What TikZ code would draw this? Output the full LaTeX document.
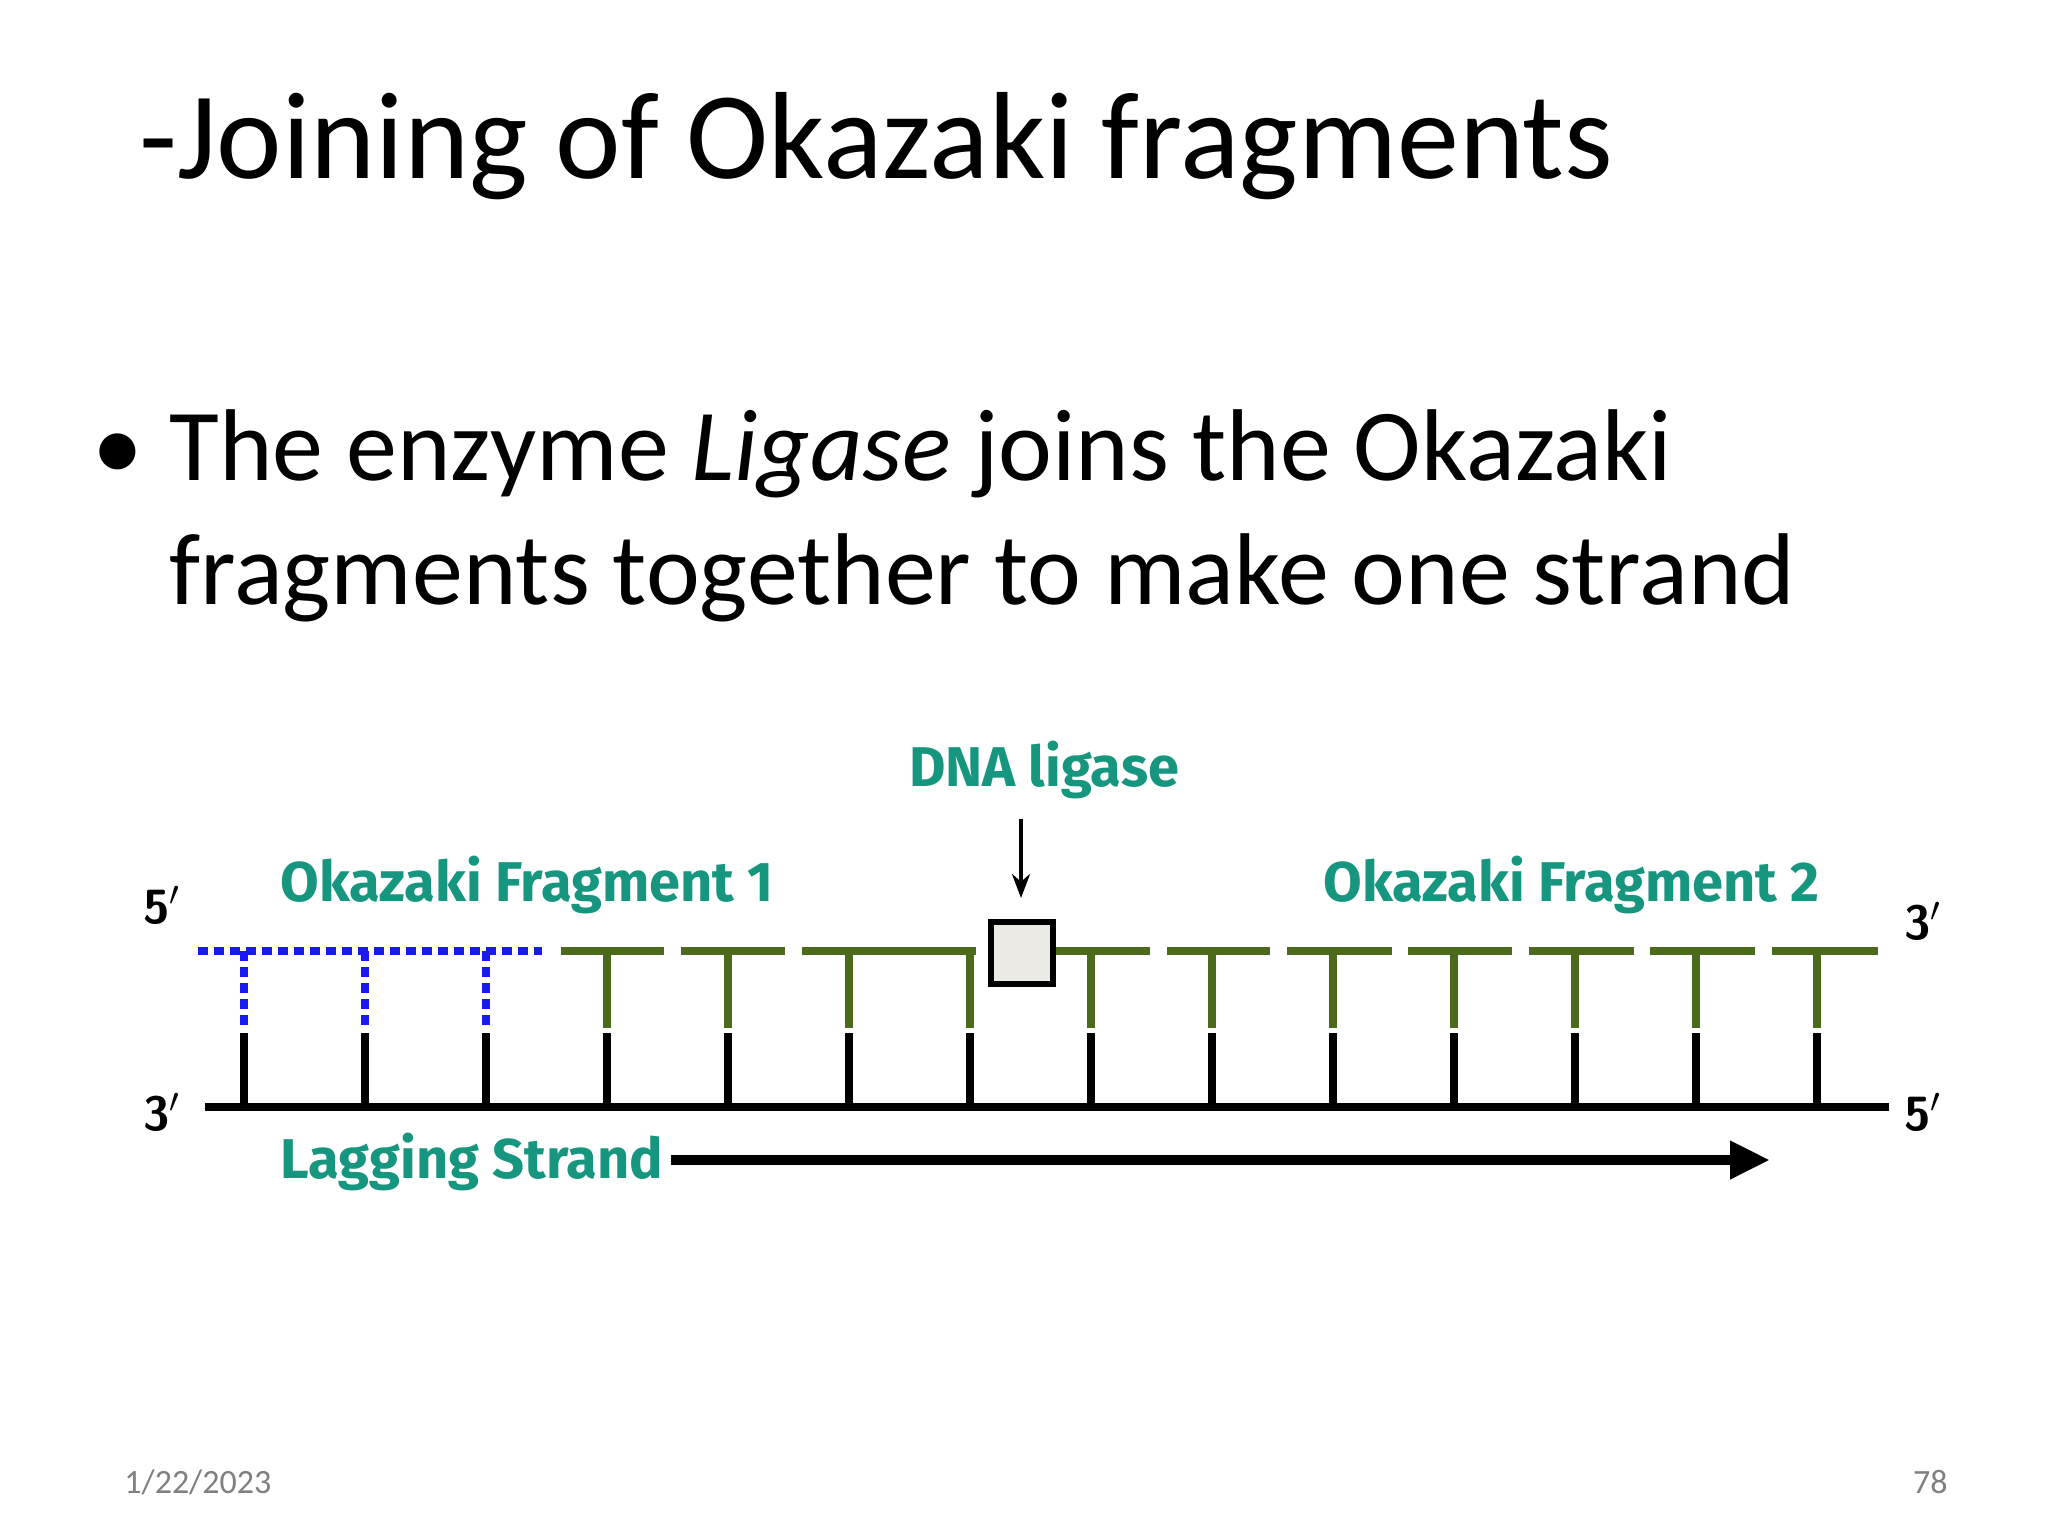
\documentclass[tikz,border=0pt]{standalone}
\usepackage{fontspec}
\setmainfont{Carlito}
\newfontfamily\labfont{Fira Sans}
\usetikzlibrary{arrows.meta}
\definecolor{teal1}{HTML}{16967F}
\definecolor{dgreen}{HTML}{4B6A1B}
\definecolor{dblue}{HTML}{1A1AF0}
\definecolor{boxfill}{HTML}{ECEAE4}
\tikzset{lab/.style={font=\labfont\bfseries\fontsize{28}{32}\selectfont,text=teal1,inner sep=0pt},
blk/.style={line width=4pt,black},
grn/.style={line width=4pt,dgreen},
blu/.style={line width=4pt,dblue,dash pattern=on 5pt off 3pt},
prime/.style={font=\sffamily\bfseries\fontsize{24}{28}\selectfont,inner sep=0pt}}
\begin{document}
\begin{tikzpicture}[x=0.5pt,y=-0.5pt]
\useasboundingbox[fill=white] (0,0) rectangle (2048,1536);
\node[anchor=base west,inner sep=0pt,font=\fontsize{62}{70}\selectfont] (title) at (139,178) {-Joining of Okazaki fragments};
\node[anchor=base west,inner sep=0pt,font=\fontsize{51}{56}\selectfont] (bul) at (92,480) {\textbullet};
\node[anchor=base west,inner sep=0pt,font=\fontsize{51}{56}\selectfont] (l1) at (169,480) {The enzyme \textit{Ligase} joins the Okazaki};
\node[anchor=base west,inner sep=0pt,font=\fontsize{51}{56}\selectfont] (l2) at (169,604) {fragments together to make one strand};
% strands
\coordinate (bl) at (205,1107); \coordinate (br) at (1889,1107);
\draw[blk] (bl) -- (br);
\coordinate (ul) at (198,951); \coordinate (um) at (542,951);
\draw[blu] (ul) -- (um);
\foreach \a/\b in {561/664,681/785,802/976,1044/1150,1167/1270,1287/1392,1408/1512,1529/1634,1650/1755,1772/1878}{
  \coordinate (ga\a) at (\a,951); \coordinate (gb\a) at (\b,951);
  \draw[grn] (ga\a) -- (gb\a);}
\foreach \i in {0,...,13}{
  \pgfmathsetmacro\xx{244+121*\i}
  \coordinate (rb\i) at (\xx,1107); \coordinate (rm\i) at (\xx,1033);
  \coordinate (rt\i) at (\xx,951); \coordinate (rc\i) at (\xx,1028);
  \draw[blk,line cap=butt] (rb\i) -- (rm\i);
  \ifnum\i<3 \draw[blu] (rt\i) -- (rc\i); \else \draw[grn] (rt\i) -- (rc\i); \fi
}
\node[draw=black,line width=3pt,fill=boxfill,minimum size=31pt,inner sep=0pt] (box) at (1022,953) {};
\node[lab] (dl) at (1044,770) {DNA ligase};
\coordinate (ars) at (1021,819); \coordinate (are) at (1021,898);
\draw[line width=2pt,-{Stealth[length=12pt,width=9pt]}] (ars) -- (are);
\node[lab,anchor=west] (f1) at (280,885) {Okazaki Fragment 1};
\node[lab,anchor=east] (f2) at (1820,885) {Okazaki Fragment 2};
\node[prime] (p1) at (162,905) {5$'$};
\node[prime] (p2) at (162,1112) {3$'$};
\node[prime] (p3) at (1923,921) {3$'$};
\node[prime] (p4) at (1923,1112) {5$'$};
\node[lab,anchor=west] (lag) at (280,1162) {Lagging Strand};
\coordinate (la) at (671,1160); \coordinate (lb) at (1770,1160);
\draw[line width=5pt,-{Triangle[length=20pt,width=18pt]}] (la) -- (lb);
\node[anchor=west,inner sep=0pt,text=gray,font=\fontsize{17}{20}\selectfont] (date) at (124,1482) {1/22/2023};
\node[anchor=east,inner sep=0pt,text=gray,font=\fontsize{17}{20}\selectfont] (pg) at (1948,1482) {78};
\end{tikzpicture}
\end{document}
